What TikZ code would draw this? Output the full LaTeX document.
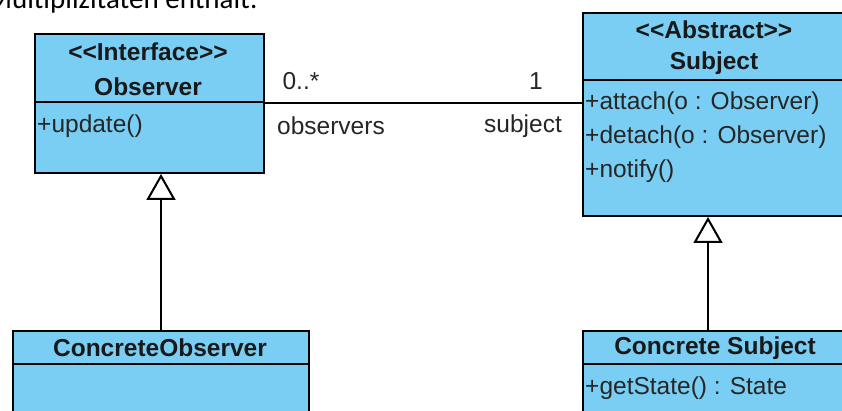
\documentclass[tikz,border=0pt]{standalone}
\usepackage{fontspec}
\newfontfamily\umlfont{Liberation Sans}
\newfontfamily\bodyfont{Carlito}
\usetikzlibrary{arrows.meta}
\definecolor{classfill}{RGB}{122,206,244}
\tikzset{
  classbox/.style={draw=black, line width=2pt, fill=classfill, anchor=north west, inner sep=0pt},
  sepline/.style={line width=2pt},
  umltext/.style={font=\umlfont\fontsize{24.5}{28}\selectfont, inner sep=0pt, text=black!85},
  umlbold/.style={font=\umlfont\bfseries\fontsize{24.5}{28}\selectfont, inner sep=0pt, text=black!90},
  assoc/.style={line width=2pt},
  generalize/.style={line width=2pt, -{Triangle[open, fill=white, width=29pt, length=26pt, line width=2pt]}},
}
\begin{document}
\begin{tikzpicture}[x=1pt, y=-1pt]
\useasboundingbox (0,0) rectangle (842,411);
\clip (0,0) rectangle (842,411);
\fill[white] (0,0) rectangle (842,411);

% text line running into the top edge
\node[font=\bodyfont\fontsize{29}{34}\selectfont, anchor=base east, inner sep=0pt] (intro) at (258,9) {Multiplizitäten enthält:};

% Observer interface
\node[classbox, minimum width=229pt, minimum height=139pt] (obs) at (34,33) {};
\draw[sepline] (obs.west |- 0,102) -- (obs.east |- 0,102);
\node[umlbold] (obsst) at (148,52) {<<Interface>>};
\node[umlbold] (obsname) at (148,87) {Observer};
\node[umltext, anchor=west] (obsop) at (37,126) {+update()};

% Subject abstract class
\node[classbox, minimum width=266pt, minimum height=203pt] (subj) at (582,12) {};
\draw[sepline] (subj.west |- 0,80) -- (subj.east |- 0,80);
\node[umlbold] (subjst) at (714,30) {<<Abstract>>};
\node[umlbold] (subjname) at (714,63) {Subject};
\node[umltext, anchor=west] (subjop1) at (585,103) {+attach(o : Observer)};
\node[umltext, anchor=west] (subjop2) at (585,137) {+detach(o : Observer)};
\node[umltext, anchor=west] (subjop3) at (585,171) {+notify()};

% ConcreteObserver
\node[classbox, minimum width=296pt, minimum height=120pt] (cobs) at (12,330) {};
\draw[sepline] (cobs.west |- 0,364) -- (cobs.east |- 0,364);
\node[umlbold] (cobsname) at (160,348) {ConcreteObserver};

% Concrete Subject
\node[classbox, minimum width=266pt, minimum height=120pt] (csub) at (582,330) {};
\draw[sepline] (csub.west |- 0,364) -- (csub.east |- 0,364);
\node[umlbold] (csubname) at (715,348) {Concrete Subject};
\node[umltext, anchor=west] (csubop) at (585,388) {+getState() : State};

% association between Observer and Subject
\draw[assoc] (obs.east) -- (obs.east -| subj.west);
\node[umltext] (mult1) at (301,81) {0..*};
\node[umltext] (mult2) at (536,81) {1};
\node[umltext] (role1) at (331,126) {observers};
\node[umltext] (role2) at (523,126) {subject};

% generalizations
\draw[generalize] (cobs.north) -- (cobs.north |- obs.south);
\draw[generalize] ([xshift=-8pt]csub.north) -- ([xshift=-8pt]csub.north |- subj.south);
\end{tikzpicture}
\end{document}
